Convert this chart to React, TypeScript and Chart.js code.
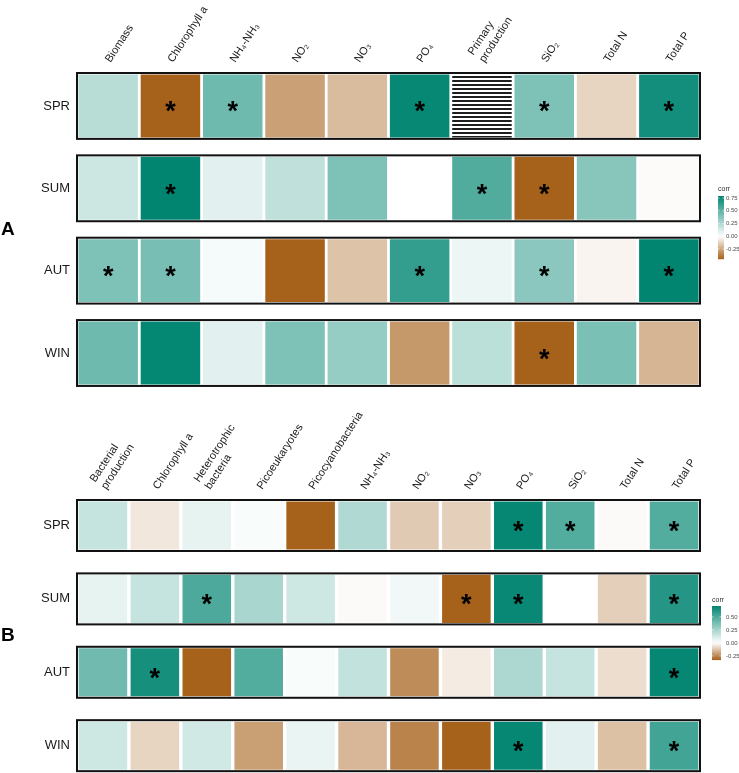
import React, { useEffect, useRef } from "react";
import { Chart, registerables } from "chart.js";

Chart.register(...registerables);

const FONT = "'Liberation Sans', Arial, Helvetica, sans-serif";

// ---------- data ----------
const seasons = ["SPR", "SUM", "AUT", "WIN"];

const columnsA: (string | string[])[] = [
  "Biomass", "Chlorophyll a", "NH₄-NH₃", "NO₂", "NO₃", "PO₄",
  ["Primary", "production"], "SiO₂", "Total N", "Total P",
];
const sprA = [0.22, -0.45, 0.45, -0.27, -0.19, 0.77, null, 0.40, -0.12, 0.73];
const sumA = [0.16, 0.79, 0.09, 0.20, 0.40, 0.00, 0.54, -0.45, 0.37, -0.01];
const autA = [0.40, 0.42, 0.03, -0.45, -0.17, 0.63, 0.06, 0.36, -0.03, 0.79];
const winA = [0.45, 0.78, 0.09, 0.40, 0.33, -0.29, 0.21, -0.45, 0.41, -0.21];
const sigSprA = [0, 1, 1, 0, 0, 1, 0, 1, 0, 1];
const sigSumA = [0, 1, 0, 0, 0, 0, 1, 1, 0, 0];
const sigAutA = [1, 1, 0, 0, 0, 1, 0, 1, 0, 1];
const sigWinA = [0, 0, 0, 0, 0, 0, 0, 1, 0, 0];
const limitsA = [-0.45, 0.79];
const legendTicksA = [0.75, 0.5, 0.25, 0, -0.25];

const columnsB: (string | string[])[] = [
  ["Bacterial", "production"], "Chlorophyll a", ["Heterotrophic", "bacteria"],
  "Picoeukaryotes", "Picocyanobacteria", "NH₄-NH₃", "NO₂", "NO₃", "PO₄",
  "SiO₂", "Total N", "Total P",
];
const sprB = [0.16, -0.05, 0.07, 0.02, -0.33, 0.22, -0.11, -0.10, 0.70, 0.48, -0.01, 0.48];
const sumB = [0.07, 0.16, 0.50, 0.24, 0.14, -0.01, 0.04, -0.33, 0.69, 0.00, -0.10, 0.61];
const autB = [0.40, 0.65, -0.33, 0.48, 0.02, 0.17, -0.24, -0.04, 0.23, 0.16, -0.07, 0.70];
const winB = [0.14, -0.09, 0.13, -0.20, 0.06, -0.15, -0.26, -0.33, 0.70, 0.08, -0.13, 0.53];
const sigSprB = [0, 0, 0, 0, 0, 0, 0, 0, 1, 1, 0, 1];
const sigSumB = [0, 0, 1, 0, 0, 0, 0, 1, 1, 0, 0, 1];
const sigAutB = [0, 1, 0, 0, 0, 0, 0, 0, 0, 0, 0, 1];
const sigWinB = [0, 0, 0, 0, 0, 0, 0, 0, 1, 0, 0, 1];
const limitsB = [-0.33, 0.71];
const legendTicksB = [0.5, 0.25, 0, -0.25];

// ---------- colours ----------
const TEAL = [1, 133, 113];
const BROWN = [166, 97, 26];

function corrColor(v: number, lim: number[]): string {
  const pos = v >= 0;
  const t = Math.max(0, Math.min(1, pos ? v / lim[1] : v / lim[0]));
  const c = pos ? TEAL : BROWN;
  const m = (k: number) => Math.round(255 + (c[k] - 255) * t);
  return `rgb(${m(0)},${m(1)},${m(2)})`;
}

function hatchPattern(ctx: CanvasRenderingContext2D): CanvasPattern | string {
  const c = document.createElement("canvas");
  c.width = 8;
  c.height = 4;
  const g = c.getContext("2d");
  if (!g) return "#888";
  g.fillStyle = "#ffffff";
  g.fillRect(0, 0, 8, 4);
  g.fillStyle = "#1e1e1e";
  g.fillRect(0, 0, 8, 2);
  return ctx.createPattern(c, "repeat") || "#888";
}

interface PanelSpec {
  letter: string;
  columns: (string | string[])[];
  rows: (number | null)[][];
  sig: number[][];
  limits: number[];
  legendTicks: number[];
  boxFrac: number;
  inset: number;
  barPct: number;
  topH: number;
  axisW: number;
  height: number;
  top: number;
  padRight: number;
  padBottom: number;
  starSize: number;
  labelOffset: number;
  legend: { titleX: number; titleY: number; barX: number; barW: number; barTop: number; pxPerUnit: number; labelX: number };
}

const panelA: PanelSpec = {
  letter: "A",
  columns: columnsA,
  rows: [sprA, sumA, autA, winA],
  sig: [sigSprA, sigSumA, sigAutA, sigWinA],
  limits: limitsA,
  legendTicks: legendTicksA,
  boxFrac: 0.8,
  inset: 0.018,
  barPct: 0.955,
  topH: 73,
  axisW: 77,
  height: 400,
  top: 0,
  padRight: 39,
  padBottom: 12,
  starSize: 27,
  labelOffset: 11,
  legend: { titleX: 718, titleY: 189, barX: 718, barW: 6, barTop: 196, pxPerUnit: 51, labelX: 726 },
};

const panelB: PanelSpec = {
  letter: "B",
  columns: columnsB,
  rows: [sprB, sumB, autB, winB],
  sig: [sigSprB, sigSumB, sigAutB, sigWinB],
  limits: limitsB,
  legendTicks: legendTicksB,
  boxFrac: 0.695,
  inset: 0.02,
  barPct: 0.935,
  topH: 100,
  axisW: 77,
  height: 373,
  top: 400,
  padRight: 39,
  padBottom: 0,
  starSize: 27,
  labelOffset: 12,
  legend: { titleX: 712, titleY: 200, barX: 712, barW: 9, barTop: 206, pxPerUnit: 52, labelX: 726 },
};

function Panel({ spec }: { spec: PanelSpec }) {
  const ref = useRef<HTMLCanvasElement>(null);

  useEffect(() => {
    const canvas = ref.current;
    if (!canvas) return;
    const ctx0 = canvas.getContext("2d");
    if (!ctx0) return;
    const pattern = hatchPattern(ctx0);

    const datasets = spec.rows.map((vals, r) => ({
      label: seasons[r],
      data: vals.map(() => [r + spec.inset, r + spec.boxFrac - spec.inset]),
      backgroundColor: vals.map((v) => (v === null ? pattern : corrColor(v, spec.limits))),
      borderWidth: 0,
      grouped: false,
      barPercentage: spec.barPct,
      categoryPercentage: 1,
    }));

    const overlay = {
      id: "overlay",
      afterDatasetsDraw(chart: any) {
        const { ctx, chartArea, scales } = chart;
        const y = scales.y;
        ctx.save();
        // boxes around each season strip
        ctx.strokeStyle = "#111111";
        ctx.lineWidth = 2;
        spec.rows.forEach((_, r) => {
          const t = y.getPixelForValue(r);
          const b = y.getPixelForValue(r + spec.boxFrac);
          ctx.strokeRect(chartArea.left, t, chartArea.right - chartArea.left, b - t);
        });
        // significance asterisks
        ctx.font = `bold ${spec.starSize}px ${FONT}`;
        ctx.fillStyle = "#000000";
        ctx.textAlign = "center";
        ctx.textBaseline = "alphabetic";
        const m = ctx.measureText("*");
        const off = (m.actualBoundingBoxAscent - m.actualBoundingBoxDescent) / 2;
        spec.sig.forEach((row, r) => {
          const meta = chart.getDatasetMeta(r);
          row.forEach((s, j) => {
            if (!s) return;
            const el = meta.data[j];
            const cy = (el.y + el.base) / 2;
            ctx.fillText("*", el.x, cy + off + 1);
          });
        });
        // panel letter
        const midY = (y.getPixelForValue(0) + y.getPixelForValue(spec.rows.length - 1 + spec.boxFrac)) / 2;
        ctx.font = `bold 19px ${FONT}`;
        ctx.textAlign = "left";
        ctx.textBaseline = "middle";
        ctx.fillStyle = "#000000";
        ctx.fillText(spec.letter, 1, midY);
        // colour legend
        const L = spec.legend;
        const [lo, hi] = spec.limits;
        const barH = (hi - lo) * L.pxPerUnit;
        const grad = ctx.createLinearGradient(0, L.barTop, 0, L.barTop + barH);
        const n = 20;
        for (let k = 0; k <= n; k++) {
          const v = hi - ((hi - lo) * k) / n;
          grad.addColorStop(k / n, corrColor(v, spec.limits));
        }
        ctx.fillStyle = grad;
        ctx.fillRect(L.barX, L.barTop, L.barW, barH);
        ctx.font = `7px ${FONT}`;
        ctx.fillStyle = "#333333";
        ctx.textAlign = "left";
        ctx.textBaseline = "middle";
        ctx.fillText("corr", L.titleX, L.titleY);
        ctx.font = `6px ${FONT}`;
        ctx.fillStyle = "#4d4d4d";
        spec.legendTicks.forEach((tv) => {
          const py = L.barTop + (hi - tv) * L.pxPerUnit;
          ctx.strokeStyle = "#ffffff";
          ctx.lineWidth = 0.6;
          ctx.beginPath();
          ctx.moveTo(L.barX, py);
          ctx.lineTo(L.barX + 1.5, py);
          ctx.moveTo(L.barX + L.barW - 1.5, py);
          ctx.lineTo(L.barX + L.barW, py);
          ctx.stroke();
          ctx.fillText(tv.toFixed(2), L.labelX, py);
        });
        ctx.restore();
      },
    };

    const chart = new Chart(ctx0, {
      type: "bar",
      data: { labels: spec.columns as any, datasets: datasets as any },
      options: {
        animation: false,
        responsive: false,
        maintainAspectRatio: false,
        events: [],
        layout: { padding: { left: 0, right: spec.padRight, top: 0, bottom: spec.padBottom } },
        plugins: { legend: { display: false }, tooltip: { enabled: false } },
        scales: {
          x: {
            type: "category",
            position: "top",
            offset: true,
            grid: { display: false, drawTicks: false },
            border: { display: false },
            ticks: {
              autoSkip: false,
              minRotation: 57,
              maxRotation: 57,
              padding: 8,
              labelOffset: spec.labelOffset,
              color: "#1a1a1a",
              font: { size: 11, family: FONT },
            },
            afterFit(s: any) {
              s.height = spec.topH;
              s.paddingLeft = 0;
              s.paddingRight = 0;
            },
          },
          y: {
            type: "linear",
            min: 0,
            max: spec.rows.length - 1 + spec.boxFrac + 0.025,
            reverse: true,
            grid: { display: false, drawTicks: false },
            border: { display: false },
            afterBuildTicks(s: any) {
              s.ticks = seasons.map((_, i) => ({ value: i + spec.boxFrac / 2 }));
            },
            ticks: {
              padding: 7,
              color: "#1a1a1a",
              font: { size: 13, family: FONT },
              callback: (_v: any, i: number) => seasons[i],
            },
            afterFit(s: any) {
              s.width = spec.axisW;
              s.paddingTop = 0;
              s.paddingBottom = 0;
            },
          },
        },
      },
      plugins: [overlay],
    } as any);

    return () => chart.destroy();
  }, [spec]);

  return (
    <canvas
      ref={ref}
      width={739}
      height={spec.height}
      style={{ position: "absolute", left: 0, top: spec.top, width: 739, height: spec.height, display: "block" }}
    />
  );
}

export default function App() {
  return (
    <div style={{ position: "absolute", left: 0, top: 0, width: 739, height: 773, background: "#ffffff", overflow: "hidden" }}>
      <Panel spec={panelA} />
      <Panel spec={panelB} />
    </div>
  );
}
